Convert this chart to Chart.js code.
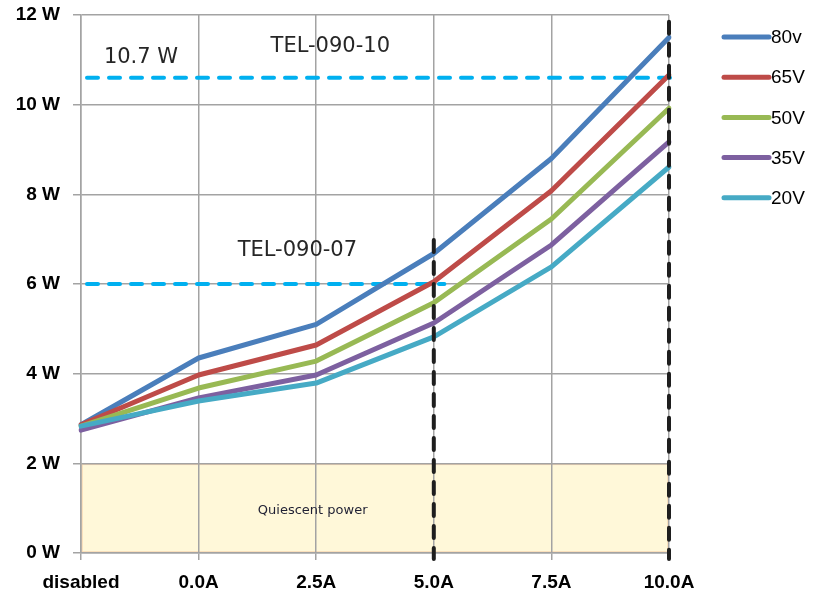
<!DOCTYPE html>
<html>
<head>
<meta charset="utf-8">
<script src="https://cdn.jsdelivr.net/npm/chart.js@4.4.1/dist/chart.umd.min.js"></script>
<style>
  html, body { margin: 0; padding: 0; background: #fff; }
</style>
</head>
<body>
<canvas id="power-chart" width="820" height="595"></canvas>
<script>
// Data
const categories = ["disabled", "0.0A", "2.5A", "5.0A", "7.5A", "10.0A"];
const seriesNames = ["80v", "65V", "50V", "35V", "20V"];
const power80 = [2.86, 4.35, 5.10, 6.68, 8.80, 11.50];
const power65 = [2.86, 3.97, 4.64, 6.05, 8.08, 10.66];
const power50 = [2.83, 3.68, 4.28, 5.58, 7.45, 9.92];
const power35 = [2.74, 3.46, 3.97, 5.13, 6.87, 9.17];
const power20 = [2.83, 3.39, 3.79, 4.82, 6.38, 8.61];
const seriesColors = ["#4A7EBB", "#BE4B48", "#98B954", "#7D60A0", "#46AAC5"];
const yTicks = [0, 2, 4, 6, 8, 10, 12];

const quiescentLevel = 2;
const quiescentLabel = "Quiescent power";
const limitLevels = [10.6, 6.0];
const limitCurrents = ["10.0A", "5.0A"];
const limitNames = ["TEL-090-10", "TEL-090-07"];
const limitValueLabel = "10.7 W";

const allSeries = [power80, power65, power50, power35, power20];

// Overlays: quiescent box, limit lines, labels, legend
const markupPlugin = {
  id: "markup",
  beforeDraw(chart) {
    const { ctx, scales: { x, y } } = chart;
    const left = x.getPixelForValue(0);
    const right = x.getPixelForValue(categories.length - 1);
    const top = y.getPixelForValue(quiescentLevel);
    const bottom = y.getPixelForValue(0);
    ctx.save();
    ctx.fillStyle = "#FFF8D9";
    ctx.fillRect(left, top, right - left, bottom - top);
    ctx.strokeStyle = "#F9D8B2";
    ctx.lineWidth = 1.5;
    ctx.strokeRect(left + 1, top + 1, right - left - 2, bottom - top - 2);
    ctx.restore();
  },
  beforeDatasetsDraw(chart) {
    const { ctx, scales: { x, y } } = chart;
    ctx.save();
    ctx.strokeStyle = "#00B0F0";
    ctx.lineWidth = 4;
    ctx.lineCap = "round";
    ctx.setLineDash([11, 11]);
    limitLevels.forEach((level, i) => {
      const idx = categories.indexOf(limitCurrents[i]);
      const py = y.getPixelForValue(level);
      ctx.beginPath();
      ctx.moveTo(x.getPixelForValue(0) + 6, py);
      ctx.lineTo(x.getPixelForValue(idx + (i === 0 ? 0.03 : 0.09)), py);
      ctx.stroke();
    });
    ctx.restore();
  },
  afterDatasetsDraw(chart) {
    const { ctx, scales: { x, y } } = chart;
    const tops = [11.85, 6.98];
    ctx.save();
    ctx.strokeStyle = "#1E1E1E";
    ctx.lineWidth = 4;
    ctx.lineCap = "round";
    ctx.setLineDash([12, 10]);
    limitCurrents.forEach((cur, i) => {
      const px = x.getPixelForValue(categories.indexOf(cur));
      ctx.beginPath();
      ctx.moveTo(px, y.getPixelForValue(tops[i]));
      ctx.lineTo(px, y.getPixelForValue(0) + 6);
      ctx.stroke();
    });
    ctx.setLineDash([]);

    ctx.fillStyle = "#262626";
    ctx.textAlign = "center";
    ctx.textBaseline = "middle";
    ctx.font = "21px 'DejaVu Sans'";
    ctx.fillText(limitValueLabel, x.getPixelForValue(0.51), y.getPixelForValue(11.04));
    ctx.fillText(limitNames[0], x.getPixelForValue(2.12), y.getPixelForValue(11.29));
    ctx.fillText(limitNames[1], x.getPixelForValue(1.84), y.getPixelForValue(6.74));
    ctx.font = "13px 'DejaVu Sans'";
    ctx.fillStyle = "#1F2033";
    ctx.fillText(quiescentLabel, x.getPixelForValue(1.97), y.getPixelForValue(0.94));
    ctx.restore();
  },
  afterDraw(chart) {
    const { ctx, chartArea } = chart;
    const lx = chartArea.right + 55;
    ctx.save();
    ctx.lineCap = "round";
    ctx.font = "19px 'Liberation Sans'";
    ctx.textBaseline = "middle";
    ctx.fillStyle = "#000";
    seriesNames.forEach((name, i) => {
      const ly = chartArea.top + 22 + i * 40.2;
      ctx.strokeStyle = seriesColors[i];
      ctx.lineWidth = 5;
      ctx.beginPath();
      ctx.moveTo(lx, ly);
      ctx.lineTo(lx + 45, ly);
      ctx.stroke();
      ctx.fillText(name, lx + 47, ly + 1);
    });
    ctx.restore();
  }
};

const ctx = document.getElementById("power-chart").getContext("2d");
const powerChart = new Chart(ctx, {
  type: "line",
  data: {
    labels: categories,
    datasets: seriesNames.map((name, i) => ({
      label: name,
      data: allSeries[i],
      borderColor: seriesColors[i],
      backgroundColor: seriesColors[i],
      borderWidth: 5,
      pointRadius: 0,
      tension: 0,
      borderJoinStyle: "round",
      borderCapStyle: "round",
      order: seriesNames.length - 1 - i,
    })),
  },
  options: {
    responsive: false,
    animation: false,
    layout: { padding: { top: 15, right: 151, bottom: 0, left: 0 } },
    plugins: {
      legend: { display: false },
      tooltip: { enabled: false },
    },
    scales: {
      x: {
        offset: false,
        grid: { color: "#A3A3A3", lineWidth: 1.5, tickLength: 7 },
        border: { color: "#A3A3A3", width: 1.5 },
        ticks: {
          color: "#000",
          padding: 11,
          maxRotation: 0,
          font: { family: "'Liberation Sans'", size: 19, weight: "bold" },
        },
        afterFit(scale) {
          scale.height = 42;
          scale.paddingLeft = 0;
          scale.paddingRight = 0;
        },
      },
      y: {
        min: 0,
        max: 12,
        afterBuildTicks(scale) { scale.ticks = yTicks.map((v) => ({ value: v })); },
        grid: { color: "#A3A3A3", lineWidth: 1.5, tickLength: 8 },
        border: { color: "#A3A3A3", width: 1.5 },
        ticks: {
          color: "#000",
          padding: 13,
          callback: (v) => v + " W",
          font: { family: "'Liberation Sans'", size: 19, weight: "bold" },
        },
        afterFit(scale) {
          scale.width = 81;
          scale.paddingTop = 0;
          scale.paddingBottom = 0;
        },
      },
    },
  },
  plugins: [markupPlugin],
});
</script>
</body>
</html>
